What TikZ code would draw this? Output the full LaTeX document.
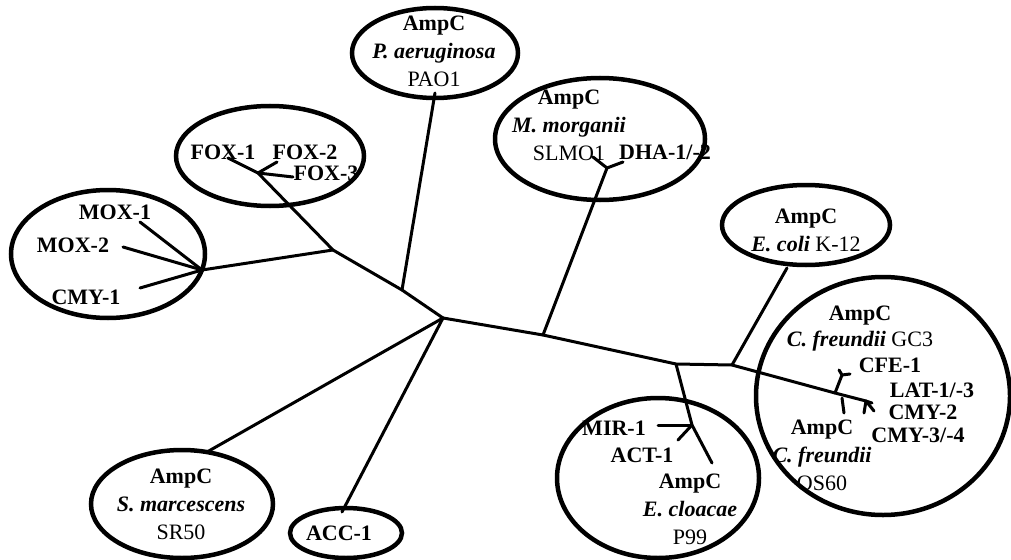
\documentclass[tikz,border=0pt]{standalone}
\usepackage{fontspec}
\setmainfont{Liberation Serif}
\usetikzlibrary{shapes.geometric}
\begin{document}
\begin{tikzpicture}[x=1pt,y=-1pt,
  ring/.style={draw,ellipse,line width=4.5pt,inner sep=0pt},
  branch/.style={line width=3pt,line cap=round,line join=round},
  lbl/.style={inner sep=0pt,align=center,font=\fontsize{22}{28}\selectfont},
  enz/.style={lbl,font=\fontsize{22}{28}\selectfont\bfseries}]
\useasboundingbox (0,0) rectangle (1011,559);
% rings
\node[ring,minimum width=188pt,minimum height=100pt] (rfox) at (270,156) {};
\node[ring,minimum width=194pt,minimum height=128pt] (rmox) at (108,254) {};
\node[ring,minimum width=166pt,minimum height=90pt] (rpao) at (435,53) {};
\node[ring,minimum width=210pt,minimum height=122pt] (rmm) at (600,139) {};
\node[ring,minimum width=168pt,minimum height=80pt] (rec) at (806,225) {};
\node[ring,minimum width=254pt,minimum height=238pt] (rcf) at (883,396) {};
\node[ring,minimum width=202pt,minimum height=160pt] (rcl) at (658,478) {};
\node[ring,minimum width=182pt,minimum height=108pt] (rsm) at (182,504) {};
\node[ring,minimum width=112pt,minimum height=50pt] (racc) at (346,533) {};
% tree points
\coordinate (c0) at (443,318);
\coordinate (a1) at (402,290);
\coordinate (a2) at (333,250);
\coordinate (fox) at (258,173);
\coordinate (fox1) at (228,158);
\coordinate (fox2) at (277,162);
\coordinate (fox3) at (293,177);
\coordinate (mox) at (202,270);
\coordinate (mox1) at (140,222);
\coordinate (mox2) at (123,247);
\coordinate (cmy1) at (140,288);
\coordinate (pao) at (435,93);
\coordinate (b1) at (543,335);
\coordinate (mm) at (607,168);
\coordinate (slmo) at (593,157);
\coordinate (dha) at (623,162);
\coordinate (b2) at (676,364);
\coordinate (b3) at (732,365);
\coordinate (eco) at (787,268);
\coordinate (cl) at (692,425);
\coordinate (mir) at (658,425);
\coordinate (act) at (678,440);
\coordinate (clend) at (712,463);
\coordinate (cfe) at (835,393);
\coordinate (cfetop) at (842,375);
\coordinate (cfea) at (839,370);
\coordinate (cfeb) at (850,374);
\coordinate (os) at (842,398);
\coordinate (osend) at (844,413);
\coordinate (lat) at (866,401);
\coordinate (latend) at (872,403);
\coordinate (lata) at (864,413);
\coordinate (latb) at (874,411);
\coordinate (sm) at (207,452);
\coordinate (acc) at (342,512);
% branches
\draw[branch] (c0) -- (a1) -- (a2) -- (fox) -- (fox1);
\draw[branch] (fox) -- (fox2);
\draw[branch] (fox) -- (fox3);
\draw[branch] (a2) -- (mox) -- (mox1);
\draw[branch] (mox) -- (mox2);
\draw[branch] (mox) -- (cmy1);
\draw[branch] (a1) -- (pao);
\draw[branch] (c0) -- (b1) -- (b2) -- (b3) -- (cfe) -- (lat) -- (latend);
\draw[branch] (b1) -- (mm) -- (slmo);
\draw[branch] (mm) -- (dha);
\draw[branch] (b3) -- (eco);
\draw[branch] (b2) -- (cl) -- (clend);
\draw[branch] (cl) -- (mir);
\draw[branch] (cl) -- (act);
\draw[branch] (cfe) -- (cfetop) -- (cfea);
\draw[branch] (cfetop) -- (cfeb);
\draw[branch] (os) -- (osend);
\draw[branch] (lat) -- (lata);
\draw[branch] (lat) -- (latb);
\draw[branch] (c0) -- (sm);
\draw[branch] (c0) -- (acc);
% labels
\node[enz] (tfox1) at (223,152) {FOX-1};
\node[enz] (tfox2) at (305,152) {FOX-2};
\node[enz] (tfox3) at (326,173) {FOX-3};
\node[enz] (tmox1) at (115,212) {MOX-1};
\node[enz] (tmox2) at (73,245) {MOX-2};
\node[enz] (tcmy1) at (86,297) {CMY-1};
\node[lbl,anchor=north] (tpao) at (434,16) {\textbf{AmpC}\\{\bfseries\itshape P. aeruginosa}\\PAO1};
\node[lbl,anchor=north] (tmm) at (569,90) {\textbf{AmpC}\\{\bfseries\itshape M. morganii}\\SLMO1};
\node[enz] (tdha) at (665,152) {DHA-1/-2};
\node[lbl,anchor=north] (tec) at (806,209) {\textbf{AmpC}\\{\bfseries\itshape E. coli} K-12};
\node[lbl,anchor=north] (tcf) at (860,306) {\textbf{AmpC}\\[-2pt]{\bfseries\itshape C. freundii} GC3};
\node[enz] (tcfe) at (890,365) {CFE-1};
\node[enz] (tlat) at (932,390) {LAT-1/-3};
\node[enz] (tcmy2) at (923,412) {CMY-2};
\node[enz] (tcmy3) at (918,435) {CMY-3/-4};
\node[lbl,anchor=north] (tos) at (822,420) {\textbf{AmpC}\\{\bfseries\itshape C. freundii}\\OS60};
\node[enz] (tmir) at (614,428) {MIR-1};
\node[enz] (tact) at (642,455) {ACT-1};
\node[lbl,anchor=north] (tcl) at (690,474) {\textbf{AmpC}\\{\bfseries\itshape E. cloacae}\\P99};
\node[lbl,anchor=north] (tsm) at (181,469) {\textbf{AmpC}\\{\bfseries\itshape S. marcescens}\\SR50};
\node[enz] (tacc) at (339,533) {ACC-1};
\end{tikzpicture}
\end{document}
